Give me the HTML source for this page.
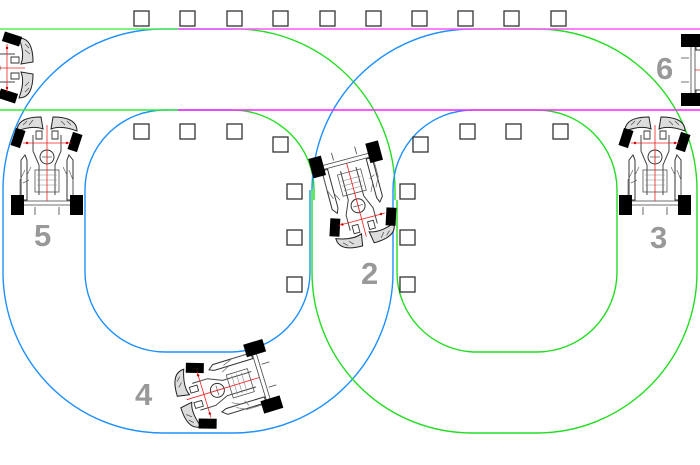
<!DOCTYPE html>
<html><head><meta charset="utf-8"><style>
html,body{margin:0;padding:0;background:#fff;}
svg{display:block}
</style></head><body>
<svg width="700" height="465" viewBox="0 0 700 465" xmlns="http://www.w3.org/2000/svg">
<defs>
<g id="kart">
  <path d="M-30,-34 Q-30,-48 -6,-48 L-4,-36 Q-14,-40 -30,-34 Z" fill="#ddd" stroke="#222" stroke-width="1"/>
  <path d="M30,-34 Q30,-48 6,-48 L4,-36 Q14,-40 30,-34 Z" fill="#ddd" stroke="#222" stroke-width="1"/>
  <path d="M-24,-40 l4,-4 M-18,-40 l4,-5 M18,-40 l-4,-4 M24,-40 l-4,-4" stroke="#555" stroke-width="0.8"/>
  <rect x="-34" y="-36" width="10" height="18" fill="#000" transform="rotate(18 -29 -27)"/>
  <rect x="23" y="-32" width="10" height="18" fill="#000" transform="rotate(18 28 -23)"/>
  <path d="M-22,-10 L-26,-5 L-26,35 L-20,35 L-20,-5 Z M22,-10 L26,-5 L26,35 L20,35 L20,-5 Z" fill="none" stroke="#333" stroke-width="1"/>
  <path d="M-14,-30 L-14,-14 L-8,0 L-8,30 M14,-30 L14,-14 L8,0 L8,30" fill="none" stroke="#444" stroke-width="1"/>
  <path d="M-11,-34 h6 v8 h-6z M5,-34 h6 v8 h-6z" fill="none" stroke="#333" stroke-width="0.9"/>
  <circle cx="0" cy="-8" r="7" fill="none" stroke="#333" stroke-width="1"/>
  <path d="M-5,-8 h10 M0,-14 v12" stroke="#555" stroke-width="0.7"/>
  <rect x="-12" y="5" width="24" height="22" fill="none" stroke="#555" stroke-width="0.8"/>
  <path d="M-10,10 h20 M-10,15 h20 M-10,20 h20" stroke="#888" stroke-width="0.6"/>
  <path d="M-22,5 l-5,10 v15 M-18,15 l-6,3 M22,5 l4,10 v15 M-16,2 l-4,8 M16,2 l4,8" stroke="#666" stroke-width="0.7" fill="none"/>
  <path d="M-30,36 H30 M-30,40 H30 M-24,42 v8 M-12,42 v8 M12,42 v8 M24,42 v8" stroke="#444" stroke-width="0.8"/>
  <path d="M0,-40 V36" stroke="#e22" stroke-width="0.8"/>
  <path d="M-24,-22 H24" stroke="#e22" stroke-width="0.8"/>
  <circle cx="-20" cy="-22" r="1.2" fill="#c00"/><circle cx="20" cy="-22" r="1.2" fill="#c00"/>
  <rect x="-36" y="30" width="13" height="20" fill="#000"/>
  <rect x="23" y="30" width="13" height="20" fill="#000"/>
</g>
</defs>

<g fill="none" stroke-width="1.4">
  <path d="M233,29 H163 A160,161 0 0 0 3,190 V272 A160,161 0 0 0 163,433 H233 A160,161 0 0 0 393,272 V190" stroke="#1e90ff"/>
  <path d="M233,29 A160,161 0 0 1 395,190 V200" stroke="#22dd22"/>
  <path d="M232,110 H165 A80,80 0 0 0 85,190 V272 A80,80 0 0 0 165,352 H232 A80,80 0 0 0 310,272 V190" stroke="#1e90ff"/>
  <path d="M232,110 A82,80 0 0 1 314,190 V200" stroke="#22dd22"/>
  <path d="M312,190 A160,161 0 0 1 472,29" stroke="#1e90ff"/>
  <path d="M472,29 H537 A160,161 0 0 1 697,190 V272 A160,161 0 0 1 537,433 H472 A160,161 0 0 1 312,272 V190" stroke="#22dd22"/>
  <path d="M393,190 A80,80 0 0 1 473,110" stroke="#1e90ff"/>
  <path d="M473,110 H537 A80,80 0 0 1 617,190 V272 A80,80 0 0 1 537,352 H473 A80,80 0 0 1 397,272 V200" stroke="#22dd22"/>
</g>
<g stroke-width="1.6">
  <line x1="0" y1="29" x2="178" y2="29" stroke="#55ee55"/>
  <line x1="178" y1="29" x2="700" y2="29" stroke="#ff55ff"/>
  <line x1="0" y1="110" x2="178" y2="110" stroke="#33ee33"/>
  <line x1="178" y1="110" x2="700" y2="110" stroke="#ff22ff"/>
</g>

<g fill="#fff" stroke="#333" stroke-width="1.3">
  <rect x="134" y="11" width="15" height="15"/><rect x="180" y="11" width="15" height="15"/>
  <rect x="227" y="11" width="15" height="15"/><rect x="273" y="11" width="15" height="15"/>
  <rect x="320" y="11" width="15" height="15"/><rect x="366" y="11" width="15" height="15"/>
  <rect x="412" y="11" width="15" height="15"/><rect x="458" y="11" width="15" height="15"/>
  <rect x="504" y="11" width="15" height="15"/><rect x="551" y="11" width="15" height="15"/>
  <rect x="134" y="124" width="15" height="15"/><rect x="180" y="124" width="15" height="15"/>
  <rect x="227" y="124" width="15" height="15"/><rect x="273" y="137" width="15" height="15"/>
  <rect x="413" y="137" width="15" height="15"/><rect x="460" y="124" width="15" height="15"/>
  <rect x="506" y="124" width="15" height="15"/><rect x="553" y="124" width="15" height="15"/>
  <rect x="287" y="184" width="15" height="15"/><rect x="287" y="230" width="15" height="15"/>
  <rect x="287" y="277" width="15" height="15"/>
  <rect x="400" y="184" width="15" height="15"/><rect x="400" y="230" width="15" height="15"/>
  <rect x="400" y="277" width="15" height="15"/>
</g>

<use href="#kart" transform="translate(47,165)"/>
<use href="#kart" transform="translate(655,165)"/>
<use href="#kart" transform="translate(356,198) rotate(165)"/>
<use href="#kart" transform="translate(225,388) rotate(-107)"/>
<use href="#kart" transform="translate(-15,68) rotate(90)"/>
<use href="#kart" transform="translate(731,70) rotate(90)"/>

<g font-family="Liberation Sans, sans-serif" font-weight="bold" font-size="31" fill="#999">
  <text x="34" y="246">5</text>
  <text x="361" y="284">2</text>
  <text x="650" y="248">3</text>
  <text x="135" y="405">4</text>
  <text x="656" y="79">6</text>
</g>
</svg>
</body></html>
